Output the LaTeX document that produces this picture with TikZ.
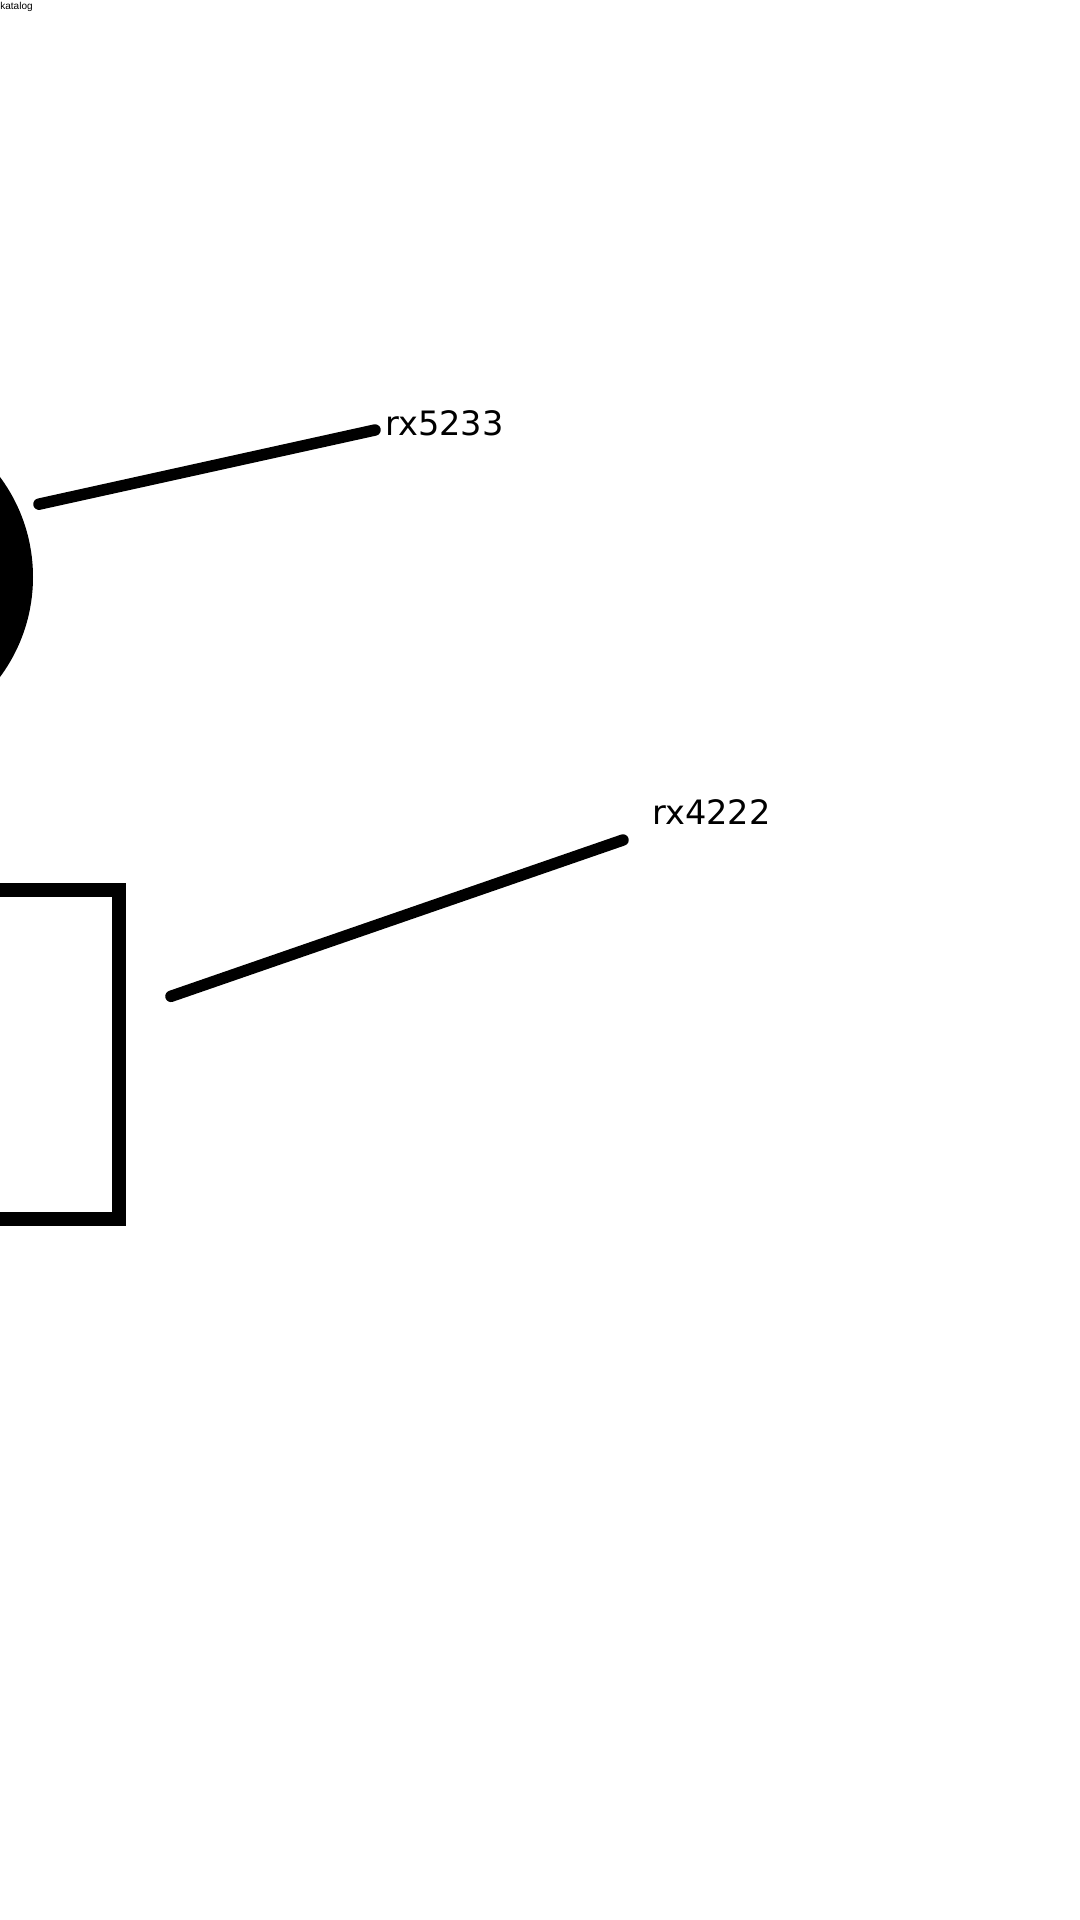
\documentclass[tikz,border=0pt]{standalone}
\usepackage{fontspec}
\setmainfont{DejaVu Sans}
\newfontfamily\captionfont{Liberation Sans}

\begin{document}
\begin{tikzpicture}[%
					x=0.5pt, y=-0.5pt,
					leader/.style={%
						line width=5.75pt,
						line cap=round
					},
					tag/.style={%
						inner sep=0pt,
						anchor=base west,
						font=\fontsize{16.8}{20}\selectfont
					},
					ball/.style={%
						circle,
						fill=black,
						inner sep=0pt,
						outer sep=0pt,
						minimum size=168pt
					},
					crate/.style={%
						rectangle,
						draw=black,
						line width=7pt,
						inner sep=0pt,
						outer sep=0pt,
						minimum width=254pt,
						minimum height=164.5pt
					}
				]

				\useasboundingbox (0, 0) rectangle (1080, 1920);
				\fill[white] (0, 0) rectangle (1080, 1920);

				\node[inner sep=0pt, anchor=base west, font=\captionfont\fontsize{5}{6}\selectfont] (title) at (0, 10) {katalog};

				\node[ball] (rx5233) at (-135, 577) {};
				\node[crate] (rx4222) at (-135, 1054.5) {};

				\node[tag] (lab5233) at (385, 435) {rx5233};
				\node[tag] (lab4222) at (652, 824) {rx4222};

				\coordinate (tip5233) at (375, 430);
				\coordinate (tip4222) at (623, 840);

				\draw[leader, shorten <=10.5pt] (rx5233.24.8) -- (tip5233);
				\draw[leader, shorten <=27.5pt] (rx4222.9.6) -- (tip4222);
			\end{tikzpicture}
\end{document}
